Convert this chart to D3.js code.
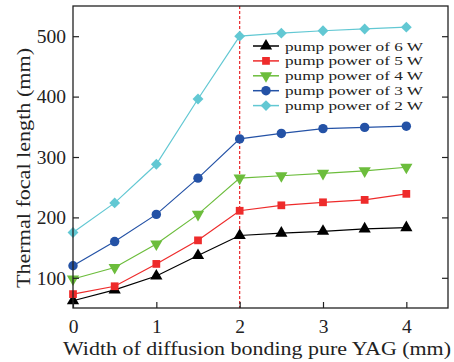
<!DOCTYPE html>
<html><head><meta charset="utf-8">
<script src="https://cdn.jsdelivr.net/npm/d3@7"></script>
<style>body{margin:0;background:#fff}svg{display:block}text{font-family:"Liberation Serif","DejaVu Serif",serif;fill:#222}</style>
</head><body>
<svg id="c" width="454" height="362"></svg>
<script>
const widths = [0, 0.5, 1, 1.5, 2, 2.5, 3, 3.5, 4];
const p6W = [62, 80, 103, 137, 170, 174, 177, 181, 183];
const p5W = [73, 86, 123, 162, 211, 220, 225, 229, 239];
const p4W = [98, 117, 156, 205, 265, 269, 273, 277, 283];
const p3W = [120, 160, 205, 265, 330, 339, 347, 349, 351];
const p2W = [175, 224, 288, 396, 500, 505, 509, 512, 515];
const seriesNames = ["pump power of 6 W","pump power of 5 W","pump power of 4 W","pump power of 3 W","pump power of 2 W"];
const xTicks = [0,1,2,3,4];
const yTicks = [100,200,300,400,500];
const markerLine = 2;

const series = [
  {name: seriesNames[0], vals: p6W, color:"#000000", sym: d3.symbolTriangle, size:65},
  {name: seriesNames[1], vals: p5W, color:"#ee2b2b", sym: d3.symbolSquare, size:60},
  {name: seriesNames[2], vals: p4W, color:"#6cbd3c", sym: "tridown", size:65},
  {name: seriesNames[3], vals: p3W, color:"#2452a6", sym: d3.symbolCircle, size:70},
  {name: seriesNames[4], vals: p2W, color:"#62c8d3", sym: d3.symbolDiamond2, size:75}
];

const svg = d3.select("#c");
const L=73, R=448, T=6, B=308;
const x = d3.scaleLinear().domain([0,4.5]).range([L,R]);
const y = d3.scaleLinear().domain([50,550]).range([B,T]);

function sym(s){
  if (s.sym==="tridown") return d3.symbol(d3.symbolTriangle, s.size)();
  return d3.symbol(s.sym, s.size)();
}
function rot(s){ return s.sym==="tridown" ? " rotate(180)" : ""; }

// red dashed line
svg.append("line").attr("x1",x(markerLine)).attr("x2",x(markerLine)).attr("y1",T).attr("y2",B)
  .attr("stroke","#e8262a").attr("stroke-width",1.2).attr("stroke-dasharray","3,2");

const line = d3.line().x((d,i)=>x(widths[i])).y(d=>y(d));
series.forEach(s=>{
  svg.append("path").attr("d",line(s.vals)).attr("fill","none").attr("stroke",s.color).attr("stroke-width",1.2);
  svg.selectAll(null).data(s.vals).enter().append("path")
    .attr("d",sym(s)).attr("fill",s.color)
    .attr("transform",(d,i)=>`translate(${x(widths[i])},${y(d)})${rot(s)}`);
});

// frame
svg.append("rect").attr("x",L).attr("y",T).attr("width",R-L).attr("height",B-T)
  .attr("fill","none").attr("stroke","#222").attr("stroke-width",1.3);

// axes with inward ticks
const ax = svg.append("g").attr("transform",`translate(0,${B})`)
  .call(d3.axisBottom(x).tickValues(xTicks).tickSize(-6).tickPadding(9).tickFormat(d3.format("d")));
const ayl = svg.append("g").attr("transform",`translate(${L},0)`)
  .call(d3.axisLeft(y).tickValues(yTicks).tickSize(-6).tickPadding(7));
const ayr = svg.append("g").attr("transform",`translate(${R},0)`)
  .call(d3.axisRight(y).tickValues(yTicks).tickSize(-6).tickFormat(""));
[ax,ayl,ayr].forEach(g=>{
  g.select(".domain").remove();
  g.selectAll("line").attr("stroke","#222").attr("stroke-width",1.2);
  g.selectAll("text").attr("font-size",19.5).attr("font-family","'Liberation Serif',serif").attr("fill","#222");
});
ax.selectAll("text").attr("dy","0.8em");

// axis titles
svg.append("text").attr("x",257).attr("y",355).attr("text-anchor","middle").attr("font-size",19.5)
  .attr("textLength",388).attr("lengthAdjust","spacingAndGlyphs")
  .text("Width of diffusion bonding pure YAG (mm)");
svg.append("text").attr("transform",`translate(30,168) rotate(-90)`).attr("text-anchor","middle").attr("font-size",19.5)
  .attr("textLength",240).attr("lengthAdjust","spacingAndGlyphs")
  .text("Thermal focal length (mm)");

// legend
const lg = svg.append("g");
series.forEach((s,i)=>{
  const yy = 46 + i*14.9;
  lg.append("line").attr("x1",253).attr("x2",279).attr("y1",yy).attr("y2",yy).attr("stroke",s.color).attr("stroke-width",1.5);
  lg.append("path").attr("d",sym(s)).attr("fill",s.color).attr("transform",`translate(266,${yy})${rot(s)}`);
  lg.append("text").attr("x",285).attr("y",yy+4.5).attr("font-size",13)
    .attr("textLength",138).attr("lengthAdjust","spacingAndGlyphs").text(s.name);
});
</script>
</body></html>
